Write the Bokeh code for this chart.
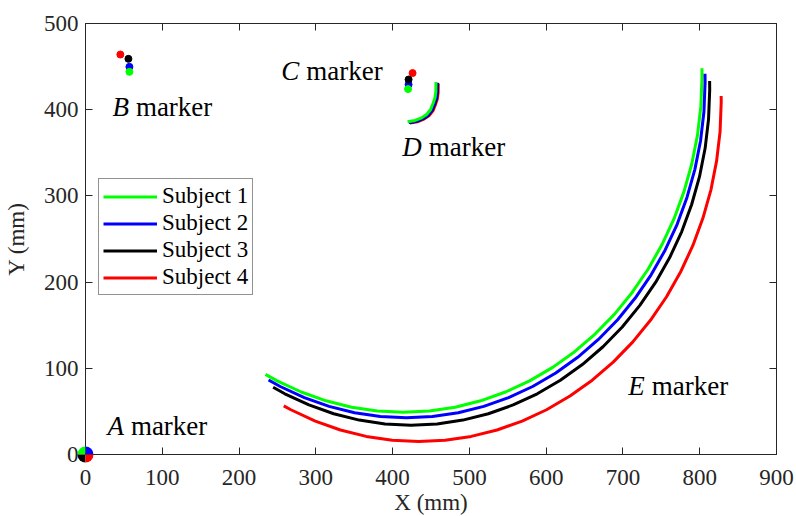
import math
from bokeh.plotting import figure
from bokeh.models import (Legend, LegendItem, LinearAxis, FixedTicker,
                          ColumnDataSource, Range1d)
from bokeh.core.properties import value
from bokeh.embed import file_html
from bokeh.resources import INLINE

# ---------------- data ----------------
subjects = ["Subject 1", "Subject 2", "Subject 3", "Subject 4"]
colors = ["#00ff00", "#0000ff", "#000000", "#ff0000"]

x_ticks = [0, 100, 200, 300, 400, 500, 600, 700, 800, 900]
y_ticks = [0, 100, 200, 300, 400, 500]

# E marker trajectories (mm)
e_x1 = [234.4, 249.6, 281.0, 313.3, 346.5, 380.1, 414.0, 447.9, 481.5, 514.7, 547.0, 578.4, 608.5,
        637.1, 664.0, 689.1, 712.0, 732.7, 750.9, 766.6, 779.5, 789.7, 797.1, 801.5, 803.0, 802.9]
e_y1 = [93.0, 85.4, 72.5, 62.3, 54.9, 50.5, 49.0, 50.5, 54.9, 62.3, 72.5, 85.4, 101.1,
        119.3, 140.0, 162.9, 188.0, 214.9, 243.5, 273.6, 305.0, 337.3, 370.5, 404.1, 438.0, 448.2]
e_x2 = [238.4, 253.6, 285.0, 317.3, 350.5, 384.1, 418.0, 451.9, 485.5, 518.7, 551.0, 582.4, 612.5,
        641.1, 668.0, 693.1, 716.0, 736.7, 754.9, 770.6, 783.5, 793.7, 801.1, 805.5, 807.0, 806.9]
e_y2 = [86.5, 78.9, 66.0, 55.8, 48.4, 44.0, 42.5, 44.0, 48.4, 55.8, 66.0, 78.9, 94.6,
        112.8, 133.5, 156.4, 181.5, 208.4, 237.0, 267.1, 298.5, 330.8, 364.0, 397.6, 431.5, 441.7]
e_x3 = [244.4, 259.6, 291.0, 323.3, 356.5, 390.1, 424.0, 457.9, 491.5, 524.7, 557.0, 588.4, 618.5,
        647.1, 674.0, 699.1, 722.0, 742.7, 760.9, 776.6, 789.5, 799.7, 807.1, 811.5, 813.0, 812.9]
e_y3 = [78.0, 70.4, 57.5, 47.3, 39.9, 35.5, 34.0, 35.5, 39.9, 47.3, 57.5, 70.4, 86.1,
        104.3, 125.0, 147.9, 173.0, 199.9, 228.5, 258.6, 290.0, 322.3, 355.5, 389.1, 423.0, 433.2]
e_x4 = [258.2, 267.5, 299.3, 332.0, 365.6, 399.6, 434.0, 468.4, 502.4, 536.0, 568.7, 600.5, 631.0,
        660.0, 687.3, 712.6, 735.8, 756.8, 775.2, 791.1, 804.2, 814.6, 822.0, 826.5, 828.0, 827.9]
e_y4 = [56.4, 51.9, 38.8, 28.4, 21.0, 16.5, 15.0, 16.5, 21.0, 28.4, 38.8, 51.9, 67.8,
        86.2, 107.2, 130.4, 155.7, 183.0, 212.0, 242.5, 274.3, 307.0, 340.6, 374.6, 409.0, 415.9]

# D marker trajectories (mm)
d_x1 = [456.5, 456.3, 455.2, 453.0, 449.5, 444.3, 437.8, 429.2, 419.5]
d_y1 = [432.0, 421.0, 414.0, 408.0, 400.2, 394.4, 390.6, 387.5, 386.0]
d_x2 = [458.0, 457.8, 456.7, 454.5, 451.0, 445.8, 439.3, 430.7, 421.0]
d_y2 = [431.2, 420.2, 413.2, 407.2, 399.4, 393.6, 389.8, 386.7, 385.2]
d_x3 = [458.5, 458.3, 457.2, 455.0, 451.5, 446.3, 439.8, 431.2, 421.5]
d_y3 = [431.0, 420.0, 413.0, 407.0, 399.2, 393.4, 389.6, 386.5, 385.0]
d_x4 = [459.5, 459.3, 458.2, 456.0, 452.5, 447.3, 440.8, 432.2, 422.5]
d_y4 = [430.5, 419.5, 412.5, 406.5, 398.7, 392.9, 389.1, 386.0, 384.5]

# B and C marker points (mm), subject order 1..4
b_x = [57.2, 57.2, 55.9, 45.4]
b_y = [443.9, 449.7, 459.0, 464.0]
c_x = [420.1, 420.8, 420.8, 426.0]
c_y = [423.9, 429.2, 435.0, 442.5]

# A marker (origin) for each subject, with its quadrant (degrees)
a_x = [0, 0, 0, 0]
a_y = [0, 0, 0, 0]
a_start = [90, 0, 180, 270]
a_end = [180, 90, 270, 360]

# marker name labels (anchor = end of the italic letter)
lab_letter = ["A", "B", "C", "D", "E"]
lab_x = [50.0, 56.5, 278.5, 438.0, 728.4]
lab_y = [33.3, 403.4, 445.1, 356.7, 79.5]

x_title = "X (mm)"
y_title = "Y (mm)"

e_xs = [e_x1, e_x2, e_x3, e_x4]
e_ys = [e_y1, e_y2, e_y3, e_y4]
d_xs = [d_x1, d_x2, d_x3, d_x4]
d_ys = [d_y1, d_y2, d_y3, d_y4]

# ---------------- figure ----------------
FONT = "Liberation Serif"
AX = "#262626"

p = figure(width=796, height=516, x_range=Range1d(0, 900), y_range=Range1d(0, 500),
           output_backend="svg", toolbar_location=None,
           min_border_left=85, min_border_right=20, min_border_top=23, min_border_bottom=62)
p.xgrid.visible = False
p.ygrid.visible = False
p.outline_line_color = AX
p.outline_line_width = 1
p.background_fill_color = "white"
p.border_fill_color = "white"

def style_axis(ax, ticks, labels=True):
    ax.ticker = FixedTicker(ticks=ticks)
    ax.major_tick_in = 7
    ax.major_tick_out = 0
    ax.minor_tick_in = 0
    ax.minor_tick_out = 0
    ax.axis_line_color = AX
    ax.major_tick_line_color = AX
    ax.major_label_text_font = FONT
    if labels:
        ax.major_label_text_font_size = "23px"
        ax.major_label_text_color = AX
        ax.axis_label_text_font = FONT
        ax.axis_label_text_font_size = "23px"
        ax.axis_label_text_font_style = "normal"
        ax.axis_label_text_color = AX
    else:
        ax.major_label_text_font_size = "1px"
        ax.major_label_text_color = None
        ax.major_label_standoff = 0

style_axis(p.xaxis[0], x_ticks)
style_axis(p.yaxis[0], y_ticks)
p.yaxis[0].axis_label = y_title
p.xaxis[0].major_label_standoff = 15
p.yaxis[0].major_label_standoff = 7
p.yaxis[0].axis_label_standoff = 12

top_ax = LinearAxis()
style_axis(top_ax, x_ticks, labels=False)
p.add_layout(top_ax, "above")
right_ax = LinearAxis()
style_axis(right_ax, y_ticks, labels=False)
p.add_layout(right_ax, "right")

# x-axis title, drawn below the frame (overlay level is not clipped)
p.text(x=[450], y=[-55.5], text=[x_title], text_font=value(FONT), text_font_size="23px",
       text_color=AX, text_align="center", text_baseline="middle", level="overlay")

# E trajectories
e_renderers = []
for i in range(4):
    r = p.line(e_xs[i], e_ys[i], line_color=colors[i], line_width=3)
    e_renderers.append(r)

# D trajectories (subject 1 drawn last / on top)
for i in [3, 2, 1, 0]:
    p.line(d_xs[i], d_ys[i], line_color=colors[i], line_width=3)

# B and C points
for i in [1, 3, 2, 0]:
    p.scatter([b_x[i], c_x[i]], [b_y[i], c_y[i]], size=7, fill_color=colors[i],
              line_color=colors[i])

# A marker: four quadrants at the origin
for i in range(4):
    p.wedge(x=a_x[i], y=a_y[i], radius=8, radius_units="screen",
            start_angle=a_start[i], end_angle=a_end[i],
            start_angle_units="deg", end_angle_units="deg",
            fill_color=colors[i], line_color=None, level="overlay")

# marker labels
src = ColumnDataSource(dict(x=lab_x, y=lab_y, letter=lab_letter,
                            word=["marker"] * len(lab_letter)))
p.text(x="x", y="y", text="letter", source=src, text_font=value(FONT),
       text_font_style="italic", text_font_size="27px", text_align="right",
       text_baseline="middle", text_color="black")
p.text(x="x", y="y", text="word", source=src, text_font=value(FONT),
       text_font_size="27px", text_align="left", text_baseline="middle",
       text_color="black", x_offset=7)

# legend
legend = Legend(items=[LegendItem(label=s, renderers=[r]) for s, r in zip(subjects, e_renderers)],
                location=(13, 159), label_text_font=FONT, label_text_font_size="23px",
                label_text_color="black", glyph_width=54, glyph_height=25, label_height=25,
                label_standoff=5, spacing=1, padding=4, margin=0,
                border_line_color=AX, border_line_width=1,
                background_fill_color="white", background_fill_alpha=1)
p.add_layout(legend)

open("out.html", "w").write(file_html(p, INLINE))
